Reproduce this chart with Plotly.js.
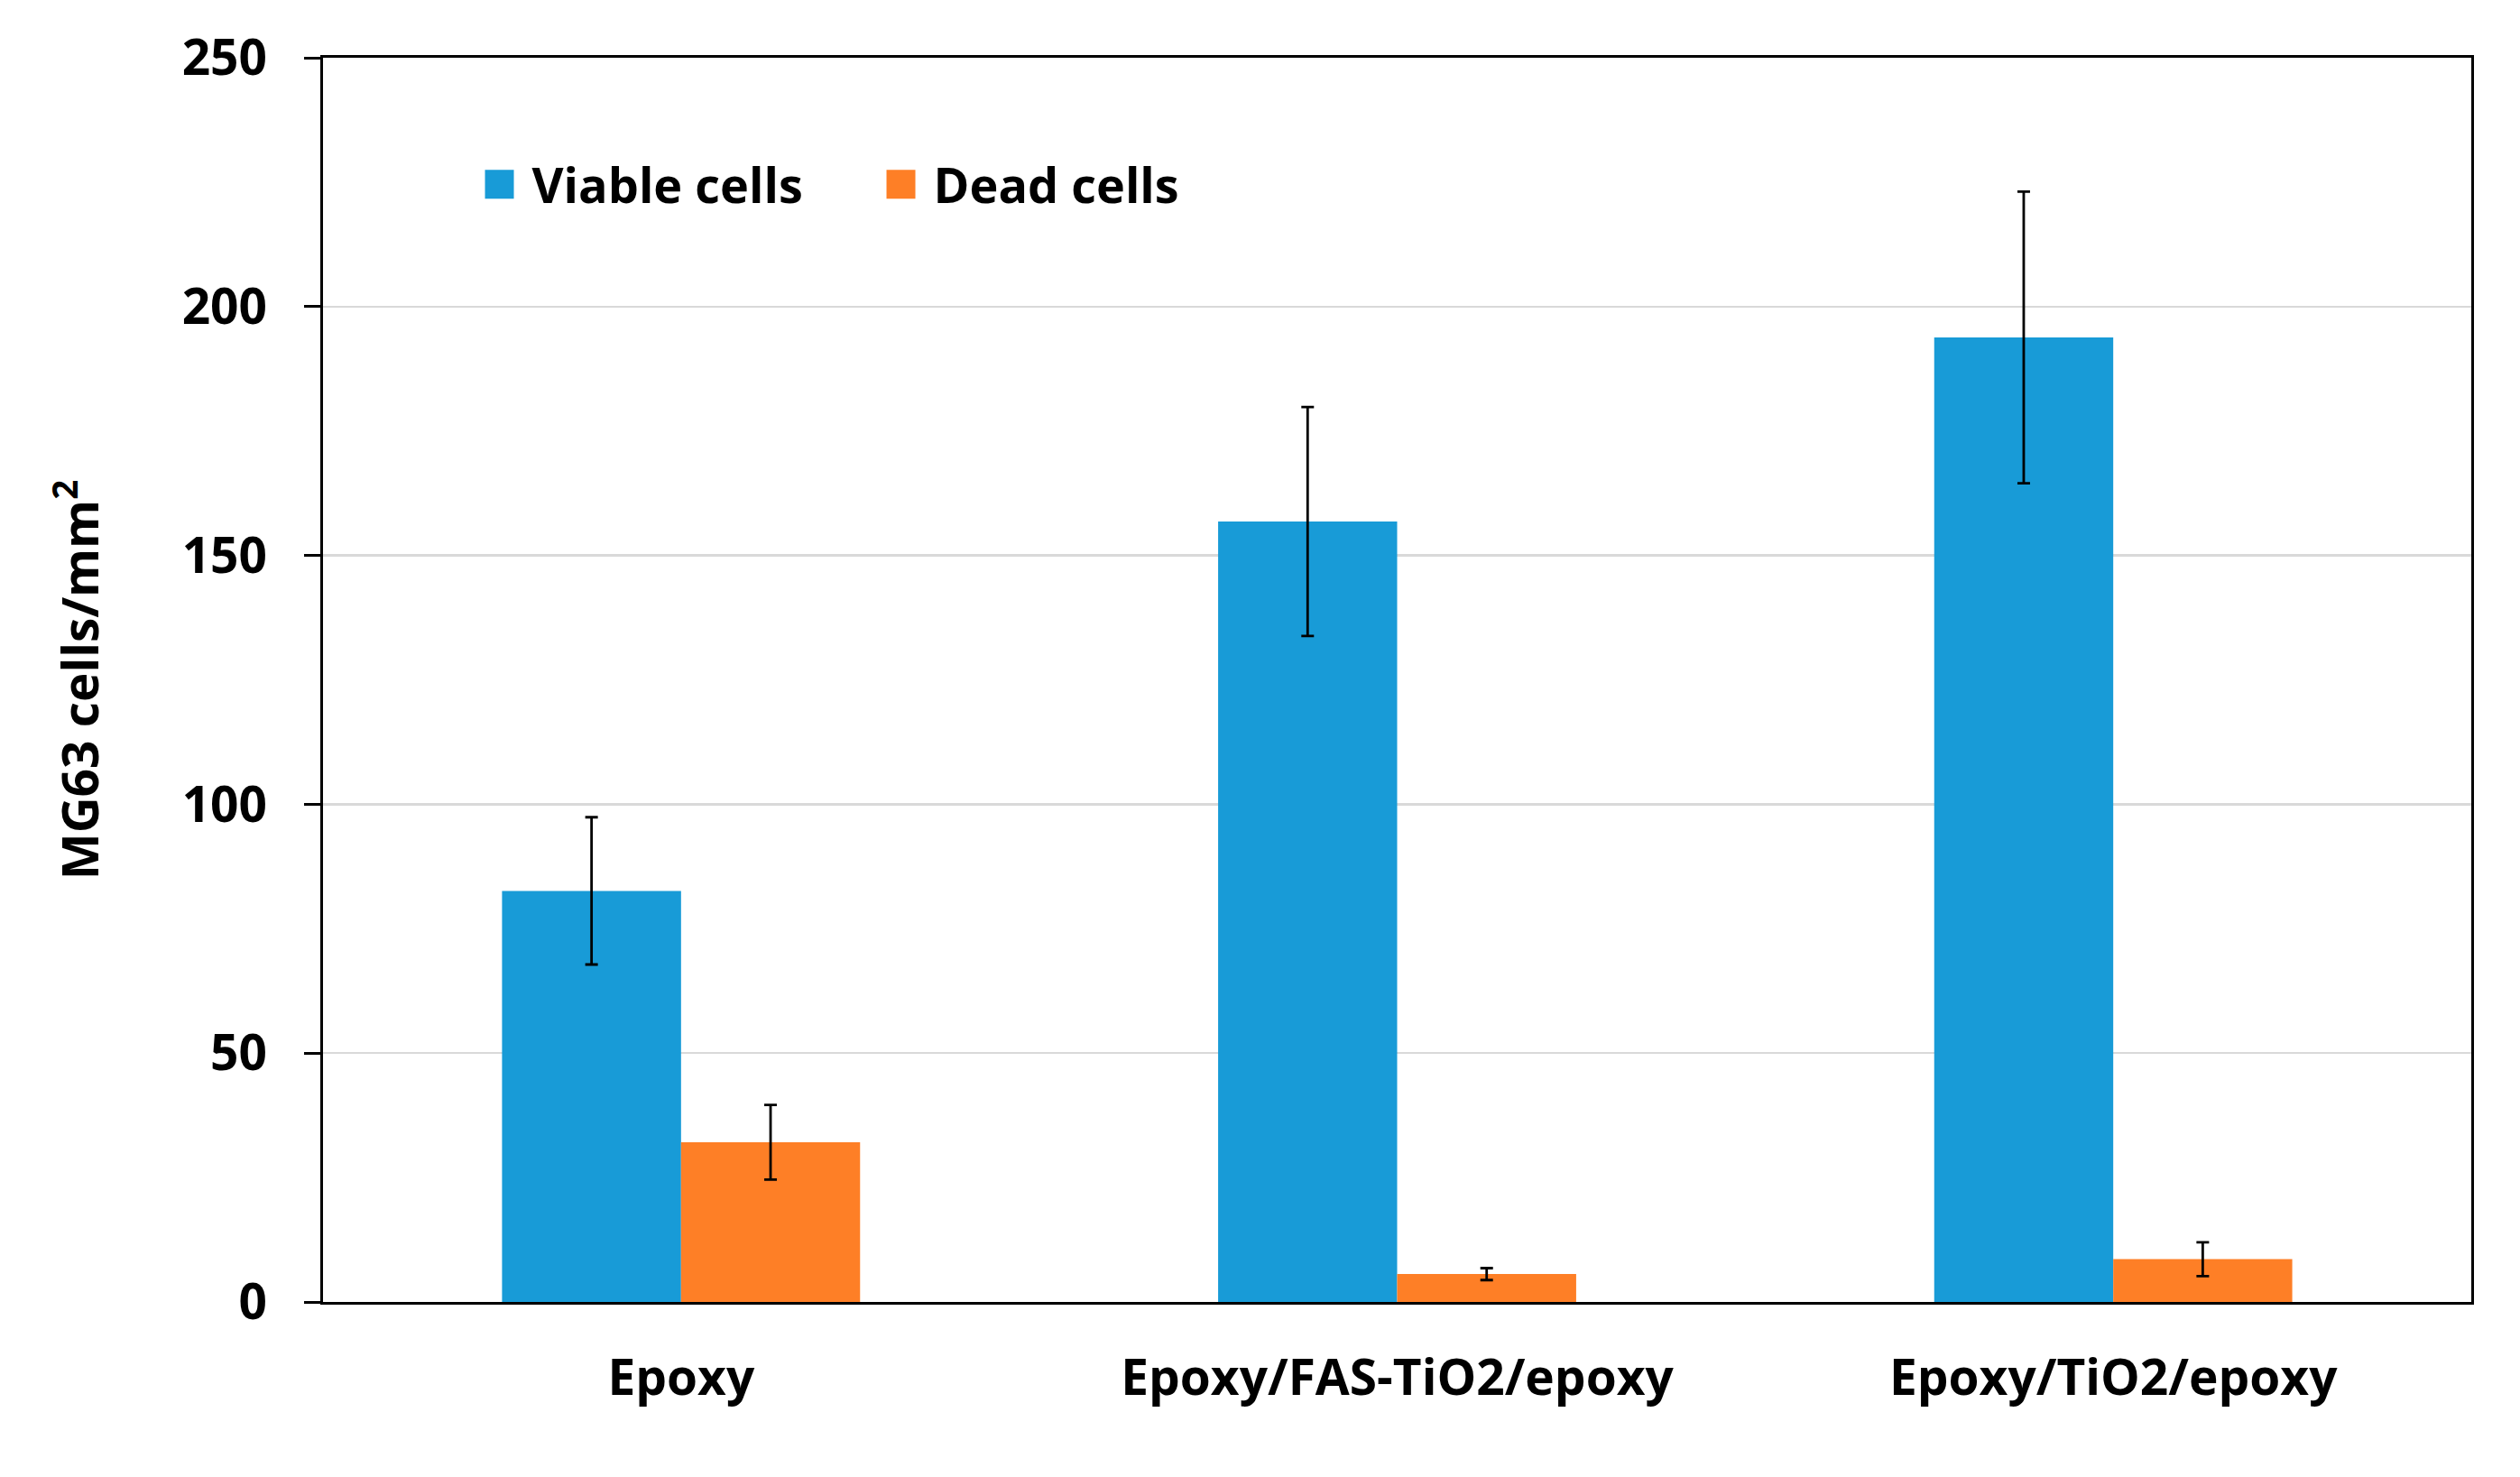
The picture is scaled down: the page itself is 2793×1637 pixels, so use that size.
<!DOCTYPE html>
<html>
<head>
<meta charset="utf-8">
<script src="https://cdn.plot.ly/plotly-3.0.1.min.js"></script>
<style>
  html, body { margin: 0; padding: 0; background: #ffffff; }
  #chart { width: 2793px; height: 1637px; }
</style>
</head>
<body>
<div id="chart"></div>
<script>
// ---- data ----
var categories = ['Epoxy', 'Epoxy/FAS-TiO2/epoxy', 'Epoxy/TiO2/epoxy'];
var viableCells = [82.6, 156.8, 193.8];
var viableErr   = [14.8, 23.0, 29.3];
var deadCells   = [32.1, 5.6, 8.6];
var deadErr     = [7.5, 1.2, 3.4];
var yTickVals   = [0, 50, 100, 150, 200, 250];
var seriesNames = ['Viable cells', 'Dead cells'];

var FONT = '"Open Sans", "Noto Sans", "DejaVu Sans", sans-serif';
var fontSize = 55;

var traces = [
  {
    type: 'bar', name: seriesNames[0], x: categories, y: viableCells,
    marker: { color: '#189bd7', line: { width: 0 } },
    error_y: { type: 'data', array: viableErr, visible: true, color: '#000000', thickness: 2.8, width: 7 }
  },
  {
    type: 'bar', name: seriesNames[1], x: categories, y: deadCells,
    marker: { color: '#fe7f26', line: { width: 0 } },
    error_y: { type: 'data', array: deadErr, visible: true, color: '#000000', thickness: 2.8, width: 7 }
  }
];

var layout = {
  width: 2793, height: 1637,
  margin: { l: 358, r: 54, t: 64, b: 194, pad: 0 },
  paper_bgcolor: '#ffffff', plot_bgcolor: '#ffffff',
  font: { family: FONT, size: fontSize, color: '#000000', weight: 'bold' },
  barmode: 'group', bargap: 0.5, bargroupgap: 0,
  showlegend: true,
  legend: {
    orientation: 'h', x: 0.067, xanchor: 'left', y: 0.898, yanchor: 'middle',
    bgcolor: 'rgba(0,0,0,0)', borderwidth: 0,
    itemwidth: 62, entrywidth: 368, entrywidthmode: 'pixels',
    font: { family: FONT, size: 54, color: '#000000', weight: 'bold' },
    traceorder: 'normal', itemclick: false
  },
  xaxis: {
    type: 'category', showgrid: false, zeroline: false,
    showline: true, linecolor: '#000000', linewidth: 3, mirror: true,
    ticks: '', ticklabelstandoff: 34,
    tickfont: { family: FONT, size: fontSize, color: '#000000', weight: 'bold' },
    automargin: false, fixedrange: true
  },
  yaxis: {
    range: [0, 250], tickvals: yTickVals, ticktext: yTickVals.map(String),
    showgrid: true, gridcolor: '#d9d9d9', gridwidth: 2.5,
    zeroline: false,
    showline: true, linecolor: '#000000', linewidth: 3, mirror: true,
    ticks: 'outside', ticklen: 18, tickwidth: 3, tickcolor: '#000000',
    ticklabelstandoff: 30,
    tickfont: { family: FONT, size: fontSize, color: '#000000', weight: 'bold' },
    title: {
      text: 'MG63 cells/mm<sup>2</sup>', standoff: 75,
      font: { family: FONT, size: fontSize, color: '#000000', weight: 'bold' }
    },
    automargin: false, fixedrange: true
  }
};

function enlargeSwatches(gd) {
  // enlarge the legend swatches (keeping Plotly's own placement transform)
  var pts = gd.querySelectorAll('.legend .legendpoints path');
  pts.forEach(function (p) {
    p.setAttribute('d', 'M16,16H-16V-16H16Z');
  });
}

Plotly.newPlot('chart', traces, layout, { staticPlot: true, displayModeBar: false }).then(function (gd) {
  enlargeSwatches(gd);
  gd.on('plotly_afterplot', function () { enlargeSwatches(gd); });
});
</script>
</body>
</html>
